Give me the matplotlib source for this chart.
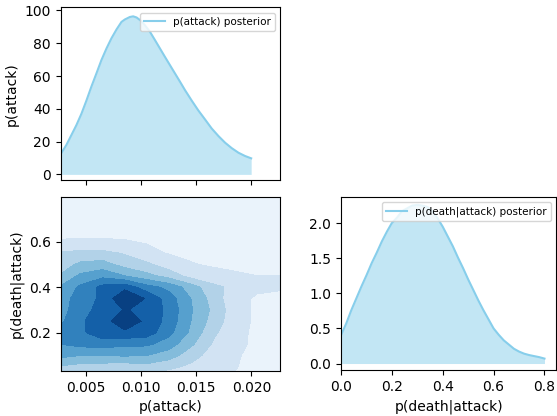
import numpy as np
import matplotlib
matplotlib.use("Agg")
import matplotlib.pyplot as plt

# marginal posterior of p(attack)
attack_x = [0.0027, 0.00321, 0.00367, 0.00412, 0.00458, 0.00503, 0.00548, 0.00594,
            0.00639, 0.00685, 0.0073, 0.00776, 0.00821, 0.00852, 0.00897, 0.00927,
            0.00958, 0.00997, 0.01033, 0.01079, 0.01124, 0.0117, 0.01215, 0.0126,
            0.01306, 0.01352, 0.01397, 0.01458, 0.01518, 0.01579, 0.01639, 0.017,
            0.01761, 0.01821, 0.01882, 0.01942, 0.01997]
attack_pdf = [12.4, 17.9, 24, 30, 37, 45, 53.5, 61.6,
              69.7, 76.8, 83, 88.4, 93, 94.5, 96, 96.4,
              95.7, 93.7, 91, 87, 82, 76.8, 71.7, 66.7,
              61.6, 56.5, 51.4, 45, 39, 33.5, 28, 23.4,
              19.3, 16, 13.2, 11.2, 9.8]

# marginal posterior of p(death|attack)
death_x = [0.0, 0.021, 0.041, 0.061, 0.081, 0.101, 0.121, 0.141, 0.161, 0.181, 0.20,
           0.221, 0.24, 0.26, 0.28, 0.30, 0.32, 0.34, 0.36, 0.38, 0.40, 0.42, 0.44,
           0.46, 0.48, 0.50, 0.52, 0.54, 0.56, 0.58, 0.60, 0.62, 0.64, 0.66, 0.68,
           0.70, 0.72, 0.74, 0.76, 0.78, 0.80]
death_pdf = [0.40, 0.57, 0.76, 0.93, 1.10, 1.26, 1.43, 1.58, 1.74, 1.88, 2.0,
             2.08, 2.17, 2.21, 2.25, 2.26, 2.25, 2.23, 2.17, 2.07, 1.95, 1.81, 1.67,
             1.51, 1.36, 1.20, 1.05, 0.90, 0.76, 0.63, 0.50, 0.41, 0.33, 0.27, 0.21,
             0.17, 0.14, 0.12, 0.105, 0.09, 0.07]

# joint density (contour level units) on a coarse grid
grid_x = [0.0025, 0.0045, 0.0065, 0.0085, 0.0105, 0.0125, 0.0145, 0.0165, 0.0185, 0.0205, 0.0230]
grid_y = [0.00, 0.05, 0.10, 0.15, 0.20, 0.25, 0.30, 0.35, 0.40, 0.45, 0.50, 0.55, 0.60, 0.65, 0.70, 0.75, 0.80]
joint = [
    [2.0, 1.8, 1.7, 1.6, 1.6, 1.4, 1.2, 1.1, 0.9, 0.6, 0.6],
    [2.9, 2.6, 2.5, 2.4, 2.6, 2.2, 1.8, 1.4, 1.05, 0.7, 0.65],
    [4.3, 4.0, 4.0, 4.1, 4.0, 3.5, 2.4, 1.6, 1.1, 0.75, 0.7],
    [5.0, 5.3, 5.5, 5.2, 5.2, 4.5, 3.2, 1.9, 1.25, 0.8, 0.7],
    [5.2, 5.8, 6.6, 6.8, 6.5, 5.3, 3.8, 2.2, 1.3, 0.8, 0.75],
    [4.7, 5.85, 6.6, 7.6, 6.8, 5.6, 4.0, 2.6, 1.35, 0.85, 0.8],
    [4.5, 5.6, 6.4, 7.05, 6.8, 5.7, 4.1, 2.8, 1.4, 0.85, 0.8],
    [4.4, 5.5, 6.2, 7.95, 6.9, 5.5, 4.0, 2.6, 1.25, 0.9, 0.85],
    [4.0, 5.2, 6.3, 6.7, 5.4, 4.7, 3.5, 2.3, 1.7, 1.15, 1.05],
    [3.0, 4.2, 4.7, 4.0, 3.3, 2.6, 1.6, 1.3, 1.1, 1.0, 1.0],
    [2.5, 3.2, 3.4, 2.6, 2.2, 1.5, 1.05, 0.9, 0.85, 0.8, 0.8],
    [2.1, 2.25, 2.25, 1.9, 1.2, 0.95, 0.85, 0.8, 0.75, 0.7, 0.65],
    [1.05, 1.08, 1.08, 1.04, 0.95, 0.85, 0.7, 0.6, 0.55, 0.5, 0.5],
    [0.8, 0.8, 0.8, 0.8, 0.7, 0.6, 0.5, 0.45, 0.4, 0.35, 0.35],
    [0.6, 0.6, 0.6, 0.6, 0.55, 0.5, 0.4, 0.35, 0.3, 0.3, 0.3],
    [0.4, 0.4, 0.4, 0.4, 0.4, 0.35, 0.3, 0.3, 0.3, 0.3, 0.3],
    [0.3, 0.3, 0.3, 0.3, 0.3, 0.3, 0.3, 0.3, 0.3, 0.3, 0.3],
]
levels = [0, 1, 2, 3, 4, 5, 6, 7, 8]

fig = plt.figure(figsize=(5.57, 4.16), dpi=100)
ax_top = fig.add_axes([0.109, 0.567, 0.394, 0.415])
ax_joint = fig.add_axes([0.109, 0.108, 0.394, 0.418])
ax_right = fig.add_axes([0.612, 0.110, 0.387, 0.416])

xlim = (0.0027, 0.0226)

# top marginal
ax_top.plot(attack_x, attack_pdf, color="skyblue", lw=1.5, label="p(attack) posterior")
ax_top.fill_between(attack_x, attack_pdf, color="skyblue", alpha=0.5, lw=0)
ax_top.set_xlim(xlim)
ax_top.set_ylim(-3.5, 101.8)
ax_top.set_xticks([0.005, 0.010, 0.015, 0.020])
ax_top.set_xticklabels([])
ax_top.set_yticks([0, 20, 40, 60, 80, 100])
ax_top.set_ylabel("p(attack)")
ax_top.legend(loc="upper right", fontsize=7.5)

# joint
ax_joint.contourf(grid_x, grid_y, np.array(joint), levels=levels, cmap="Blues")
ax_joint.set_xlim(xlim)
ax_joint.set_ylim(0.0315, 0.795)
ax_joint.set_xticks([0.005, 0.010, 0.015, 0.020])
ax_joint.set_yticks([0.2, 0.4, 0.6])
ax_joint.set_xlabel("p(attack)")
ax_joint.set_ylabel("p(death|attack)")

# right marginal
ax_right.plot(death_x, death_pdf, color="skyblue", lw=1.5, label="p(death|attack) posterior")
ax_right.fill_between(death_x, death_pdf, color="skyblue", alpha=0.5, lw=0)
ax_right.set_xlim(0, 0.847)
ax_right.set_ylim(-0.096, 2.37)
ax_right.set_xticks([0.0, 0.2, 0.4, 0.6, 0.8])
ax_right.set_yticks([0.0, 0.5, 1.0, 1.5, 2.0])
ax_right.set_xlabel("p(death|attack)")
ax_right.legend(loc="upper right", fontsize=7.5)

fig.savefig("out.png", dpi=100)
